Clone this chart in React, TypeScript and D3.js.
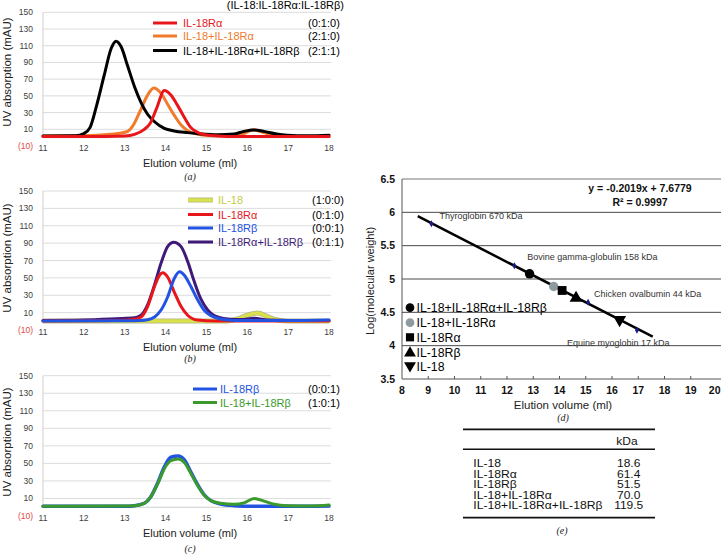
import React from 'react';
import * as d3 from 'd3';

const FONT = "'Liberation Sans', Arial, Helvetica, sans-serif";
const SERIF = "'Liberation Serif', 'Times New Roman', serif";

type Pt = [number, number];

// ---------- Panel (a) data: elution volume (ml), UV absorption (mAU)
const aIL18Ra: Pt[] = [[11,1.5],[12.5,1.5],[13.0,2],[13.24,4],[13.48,10],[13.62,17],[13.78,35],[13.97,56.5],[14.13,51],[14.3,38],[14.45,25],[14.62,12],[14.85,5],[15.1,2.5],[15.5,1.5],[16.5,1.3],[18,1.5]];
const aIL18plusRa: Pt[] = [[11,2],[12,2.2],[12.64,4],[13.05,7],[13.21,15],[13.37,31],[13.55,50],[13.71,59.5],[13.89,53],[14.05,40],[14.21,27],[14.38,15],[14.55,8],[14.8,4],[15.1,2.5],[15.6,2.2],[15.9,4.5],[16.15,9.5],[16.4,6],[16.7,2.5],[17.2,1.5],[18,1.5]];
const aTernary: Pt[] = [[11,2],[11.8,2.2],[12.0,5],[12.15,12],[12.31,38],[12.5,75],[12.67,107],[12.79,115.5],[12.91,109],[13.07,86],[13.24,61],[13.4,42],[13.56,28],[13.73,19],[13.97,11],[14.21,8],[14.54,6],[14.86,4.5],[15.27,3.5],[15.68,4.5],[15.92,7.5],[16.17,9],[16.41,7.5],[16.66,5],[16.98,3],[17.47,2.4],[18,3]];

// ---------- Panel (b) data
const bIL18: Pt[] = [[11,0.4],[15.5,0.4],[15.76,2.7],[16.0,7],[16.25,9.5],[16.49,5.5],[16.74,1.5],[17,0.4],[18,0.4]];
const bRaRb: Pt[] = [[11,1],[12,1.5],[12.8,3],[13.24,4],[13.4,7],[13.56,19],[13.73,42],[13.89,67],[14.05,86],[14.2,91],[14.38,86],[14.54,69],[14.7,46],[14.86,26],[15.03,13],[15.19,6.5],[15.52,2.7],[15.84,2],[16.17,3.5],[16.5,1.5],[17,1],[18,1]];
const bIL18Ra: Pt[] = [[11,0.5],[12.8,0.8],[13.2,2],[13.4,5],[13.56,17],[13.73,40],[13.85,53],[13.93,56],[14.05,51],[14.21,34],[14.38,17],[14.54,7],[14.78,1.5],[15.2,0.5],[18,0.5]];
const bIL18Rb: Pt[] = [[11,0.5],[13,0.7],[13.4,1],[13.56,1.8],[13.73,5],[13.89,13],[14.05,28],[14.21,49],[14.34,57],[14.46,53],[14.62,40],[14.78,25],[14.94,13],[15.11,6.5],[15.35,2.7],[15.68,1],[17,0.8],[18,1.5]];

// ---------- Panel (c) data
const cIL18Rb: Pt[] = [[11,1],[13,1.2],[13.24,1.8],[13.48,4.5],[13.64,12],[13.81,28],[13.97,46],[14.13,57],[14.31,58.5],[14.46,54],[14.62,40],[14.78,26],[14.94,14.5],[15.11,7.5],[15.35,3.7],[15.68,1.8],[16.2,1],[17,1],[18,1.5]];
const cIL18plusRb: Pt[] = [[11,1.2],[13,1.5],[13.24,1.8],[13.48,4.5],[13.64,12],[13.81,27],[13.97,44],[14.13,53],[14.31,55],[14.46,51],[14.62,38.5],[14.78,25],[14.94,14],[15.11,7.5],[15.35,4.5],[15.68,3.3],[15.92,5],[16.17,10],[16.41,7],[16.66,3.3],[16.98,1.8],[17.6,1.5],[18,2.5]];

const chromYTicks = [-10, 10, 30, 50, 70, 90, 110, 130, 150];
const chromXTicks = [11, 12, 13, 14, 15, 16, 17, 18];

// ---------- Panel (d) data
const stdNames = ['Thyroglobin 670 kDa', 'Bovine gamma-globulin 158 kDa', 'Chicken ovalbumin 44 kDa', 'Equine myoglobin 17 kDa'];
const stdVolume = [9.12, 12.28, 15.09, 16.95];
const stdLogMW = [5.83, 5.2, 4.65, 4.23];
const sampleNames = ['IL-18+IL-18Rα+IL-18Rβ', 'IL-18+IL-18Rα', 'IL-18Rα', 'IL-18Rβ', 'IL-18'];
const sampleVolume = [12.86, 13.78, 14.1, 14.63, 16.29];
const sampleLogMW = [5.078, 4.888, 4.828, 4.713, 4.389];
const fitSlope = -0.2019;
const fitIntercept = 7.6779;
const fitRange = [8.6, 17.55];
const dXTicks = [8, 9, 10, 11, 12, 13, 14, 15, 16, 17, 18, 19, 20];
const dYTicks = [3.5, 4, 4.5, 5, 5.5, 6, 6.5];

// ---------- Table (e) data
const tableNames = ['IL-18', 'IL-18Rα', 'IL-18Rβ', 'IL-18+IL-18Rα', 'IL-18+IL-18Rα+IL-18Rβ'];
const tableKDa = ['18.6', '61.4', '51.5', '70.0', '119.5'];

const C = {
  red: '#e8161b',
  orange: '#f07b2c',
  black: '#000000',
  blue: '#2253e3',
  purple: '#3f1a78',
  yellow: '#d8e04c',
  green: '#3a9a2b',
};

interface Series { data: Pt[]; color: string; width: number; under?: string; }
interface LegendRow { label: string; ratio: string; color: string; textColor: string; under?: string; }

function ChromPanel(props: {
  y0: number; y1: number; series: Series[]; legend: LegendRow[];
  legY: number[]; legLine: [number, number]; legText: number; legRatio: number;
  title: number; tag: string; tagY: number; ytitleY: number;
}) {
  const x = d3.scaleLinear().domain([11, 18]).range([43, 329]);
  const y = d3.scaleLinear().domain([-10, 150]).range([props.y0, props.y1]);
  const line = d3.line<Pt>().x(d => x(d[0])).y(d => y(d[1])).curve(d3.curveMonotoneX);
  return (
    <g>
      {chromYTicks.map(t => (
        <g key={t}>
          {t > 0 && <line x1={43} x2={331} y1={y(t)} y2={y(t)} stroke="#dcdcdc" strokeWidth={1} />}
          <text x={33} y={y(t) + 3} textAnchor="end" fontSize={8.5} fill={t < 0 ? '#e04848' : '#404040'} fontFamily={FONT}>
            {t < 0 ? '(10)' : String(t)}
          </text>
        </g>
      ))}
      <line x1={43} x2={43} y1={y(150)} y2={y(0)} stroke="#cfcfcf" />
      <line x1={43} x2={331} y1={y(0)} y2={y(0)} stroke="#cfcfcf" />
      {chromXTicks.map(t => (
        <text key={t} x={x(t)} y={y(0) + 13.5} textAnchor="middle" fontSize={8.5} fill="#404040" fontFamily={FONT}>{t}</text>
      ))}
      {props.series.map((s, i) => (
        <g key={i}>
          {s.under && <path d={line(s.data) || ''} fill="none" stroke={s.under} strokeWidth={s.width + 1.5} strokeLinejoin="round" />}
          <path d={line(s.data) || ''} fill="none" stroke={s.color} strokeWidth={s.width} strokeLinejoin="round" strokeLinecap="round" />
        </g>
      ))}
      {props.legend.map((r, i) => (
        <g key={i}>
          {r.under && <line x1={props.legLine[0]} x2={props.legLine[1]} y1={props.legY[i]} y2={props.legY[i]} stroke={r.under} strokeWidth={5} />}
          <line x1={props.legLine[0]} x2={props.legLine[1]} y1={props.legY[i]} y2={props.legY[i]} stroke={r.color} strokeWidth={r.under ? 3.5 : 3} />
          <text x={props.legText} y={props.legY[i] + 4} fontSize={11} fill={r.textColor} fontFamily={FONT}>{r.label}</text>
          <text x={props.legRatio} y={props.legY[i] + 4} fontSize={11} fill="#000" fontFamily={FONT}>{r.ratio}</text>
        </g>
      ))}
      <text transform={`translate(10.5,${props.ytitleY}) rotate(-90)`} textAnchor="middle" fontSize={11.5} fill="#222" fontFamily={FONT}>UV absorption (mAU)</text>
      <text x={190} y={props.title} textAnchor="middle" fontSize={11} fill="#222" fontFamily={FONT}>Elution volume (ml)</text>
      <text x={190} y={props.tagY} textAnchor="middle" fontSize={10} fontStyle="italic" fill="#222" fontFamily={SERIF}>{props.tag}</text>
    </g>
  );
}

function CalibPanel() {
  const x = d3.scaleLinear().domain([8, 20]).range([402, 717]);
  const y = d3.scaleLinear().domain([3.5, 6.5]).range([379, 179]);
  const fitLine = d3.line<number>().x(v => x(v)).y(v => y(fitSlope * v + fitIntercept));
  const shapes = [d3.symbolCircle, d3.symbolCircle, d3.symbolSquare, d3.symbolTriangle, d3.symbolTriangle];
  const sizes = [70, 70, 78, 72, 72];
  const fills = ['#000', '#8d9aa0', '#000', '#000', '#000'];
  const rot = [0, 0, 0, 0, 180];
  const legY = [307.7, 322.7, 337.3, 352, 366.7];
  const stdDx = [8, 13, 6, -70];
  const stdDy = [-5, -6, -5, 16];
  return (
    <g fontFamily={FONT}>
      {dYTicks.slice(1, -1).map(t => (
        <line key={t} x1={402} x2={721} y1={y(t)} y2={y(t)} stroke="#4a4a4a" strokeWidth={1} />
      ))}
      <line x1={402} x2={721} y1={y(6.5)} y2={y(6.5)} stroke="#777" strokeWidth={1} />
      <line x1={402} x2={721} y1={y(3.5)} y2={y(3.5)} stroke="#555" strokeWidth={1} />
      <line x1={402} x2={402} y1={y(6.5)} y2={y(3.5)} stroke="#555" strokeWidth={1} />
      {dXTicks.slice(1, -1).map(t => (
        <line key={t} x1={x(t)} x2={x(t)} y1={y(3.5)} y2={y(3.5) - 3} stroke="#555" />
      ))}
      {dYTicks.map(t => (
        <text key={t} x={395} y={y(t) + 3.5} textAnchor="end" fontSize={10.5} fontWeight="bold" fill="#111">{String(t)}</text>
      ))}
      {dXTicks.map((t, i) => (
        <text key={t} x={i === dXTicks.length - 1 ? 720.5 : x(t)} y={394} textAnchor={i === dXTicks.length - 1 ? 'end' : 'middle'} fontSize={10.5} fontWeight="bold" fill="#111">{t}</text>
      ))}
      <text transform={`translate(374,281) rotate(-90)`} textAnchor="middle" fontSize={11} fill="#222">Log(molecular weight)</text>
      <text x={563} y={409} textAnchor="middle" fontSize={11.5} fill="#222">Elution volume (ml)</text>
      <text x={563} y={420.5} textAnchor="middle" fontSize={10} fontStyle="italic" fill="#222" fontFamily={SERIF}>(d)</text>
      <path d={fitLine(fitRange) || ''} stroke="#000" strokeWidth={2.5} fill="none" />
      {stdVolume.map((v, i) => (
        <g key={i}>
          <path d={d3.symbol(d3.symbolDiamond, 14)() || ''} transform={`translate(${x(v)},${y(stdLogMW[i])})`} fill="#1c1c86" />
          <text x={x(v) + stdDx[i]} y={y(stdLogMW[i]) + stdDy[i]} fontSize={9} fill="#333">{stdNames[i]}</text>
        </g>
      ))}
      {sampleVolume.map((v, i) => (
        <path key={i} d={d3.symbol(shapes[i], sizes[i])() || ''} transform={`translate(${x(v)},${y(sampleLogMW[i])}) rotate(${rot[i]})`} fill={fills[i]} />
      ))}
      {sampleNames.map((n, i) => (
        <g key={n}>
          <path d={d3.symbol(shapes[i], sizes[i] * 0.85)() || ''} transform={`translate(410,${legY[i] + (i >= 3 ? (i === 3 ? 1 : -1) : 0)}) rotate(${rot[i]})`} fill={fills[i]} />
          <text x={416.5} y={legY[i] + 4.5} fontSize={12.3} fill="#000">{n}</text>
        </g>
      ))}
      <text x={640} y={192} textAnchor="middle" fontSize={10.5} fontWeight="bold" fill="#111">y = -0.2019x + 7.6779</text>
      <text x={640} y={206} textAnchor="middle" fontSize={10.5} fontWeight="bold" fill="#111">R² = 0.9997</text>
    </g>
  );
}

function TablePanel() {
  const rowY = [467.3, 477.8, 488.2, 498.6, 509];
  return (
    <g fontFamily={FONT}>
      <line x1={463} x2={655} y1={429.3} y2={429.3} stroke="#111" strokeWidth={1.8} />
      <line x1={463} x2={655} y1={449.3} y2={449.3} stroke="#111" strokeWidth={1.4} />
      <line x1={463} x2={655} y1={517.7} y2={517.7} stroke="#111" strokeWidth={1.8} />
      <text transform="translate(627,445) scale(1.2,1)" textAnchor="middle" fontSize={10} fill="#111">kDa</text>
      {tableNames.map((n, i) => (
        <g key={n}>
          <text transform={`translate(473.3,${rowY[i]}) scale(1.22,1)`} fontSize={10} fill="#111">{n}</text>
          <text transform={`translate(628.7,${rowY[i]}) scale(1.2,1)`} textAnchor="middle" fontSize={10} fill="#111">{tableKDa[i]}</text>
        </g>
      ))}
      <text x={562} y={533.5} textAnchor="middle" fontSize={10} fontStyle="italic" fill="#222" fontFamily={SERIF}>(e)</text>
    </g>
  );
}

export default function App() {
  return (
    <svg width={721} height={554} style={{ position: 'absolute', left: 0, top: 0, background: '#fff' }}>
      <rect width={721} height={554} fill="#fff" />
      <ChromPanel
        y0={146} y1={12.3}
        series={[
          { data: aIL18plusRa, color: C.orange, width: 3 },
          { data: aTernary, color: C.black, width: 3 },
          { data: aIL18Ra, color: C.red, width: 3 },
        ]}
        legend={[
          { label: 'IL-18Rα', ratio: '(0:1:0)', color: C.red, textColor: C.red },
          { label: 'IL-18+IL-18Rα', ratio: '(2:1:0)', color: C.orange, textColor: C.orange },
          { label: 'IL-18+IL-18Rα+IL-18Rβ', ratio: '(2:1:1)', color: C.black, textColor: '#000' },
        ]}
        legY={[23, 36, 50.5]} legLine={[153, 177]} legText={183} legRatio={308}
        title={167} tag="(a)" tagY={180} ytitleY={72}
      />
      <text x={344} y={9} textAnchor="end" fontSize={11} fill="#000" fontFamily={FONT}>(IL-18:IL-18Rα:IL-18Rβ)</text>
      <ChromPanel
        y0={330} y1={191}
        series={[
          { data: bIL18, color: C.yellow, width: 3.5, under: '#b3b68a' },
          { data: bRaRb, color: C.purple, width: 3 },
          { data: bIL18Ra, color: C.red, width: 3 },
          { data: bIL18Rb, color: C.blue, width: 3 },
        ]}
        legend={[
          { label: 'IL-18', ratio: '(1:0:0)', color: C.yellow, textColor: '#c4cc3c', under: '#b3b68a' },
          { label: 'IL-18Rα', ratio: '(0:1:0)', color: C.red, textColor: C.red },
          { label: 'IL-18Rβ', ratio: '(0:0:1)', color: C.blue, textColor: C.blue },
          { label: 'IL-18Rα+IL-18Rβ', ratio: '(0:1:1)', color: C.purple, textColor: C.purple },
        ]}
        legY={[200, 214.5, 228, 242]} legLine={[188, 213]} legText={218} legRatio={312}
        title={350.5} tag="(b)" tagY={361.5} ytitleY={258}
      />
      <ChromPanel
        y0={516} y1={375.7}
        series={[
          { data: cIL18Rb, color: C.blue, width: 3.5 },
          { data: cIL18plusRb, color: C.green, width: 3 },
        ]}
        legend={[
          { label: 'IL-18Rβ', ratio: '(0:0:1)', color: C.blue, textColor: C.blue },
          { label: 'IL-18+IL-18Rβ', ratio: '(1:0:1)', color: C.green, textColor: C.green },
        ]}
        legY={[389, 402.5]} legLine={[193, 217]} legText={220} legRatio={308}
        title={537} tag="(c)" tagY={552} ytitleY={442}
      />
      <CalibPanel />
      <TablePanel />
    </svg>
  );
}
